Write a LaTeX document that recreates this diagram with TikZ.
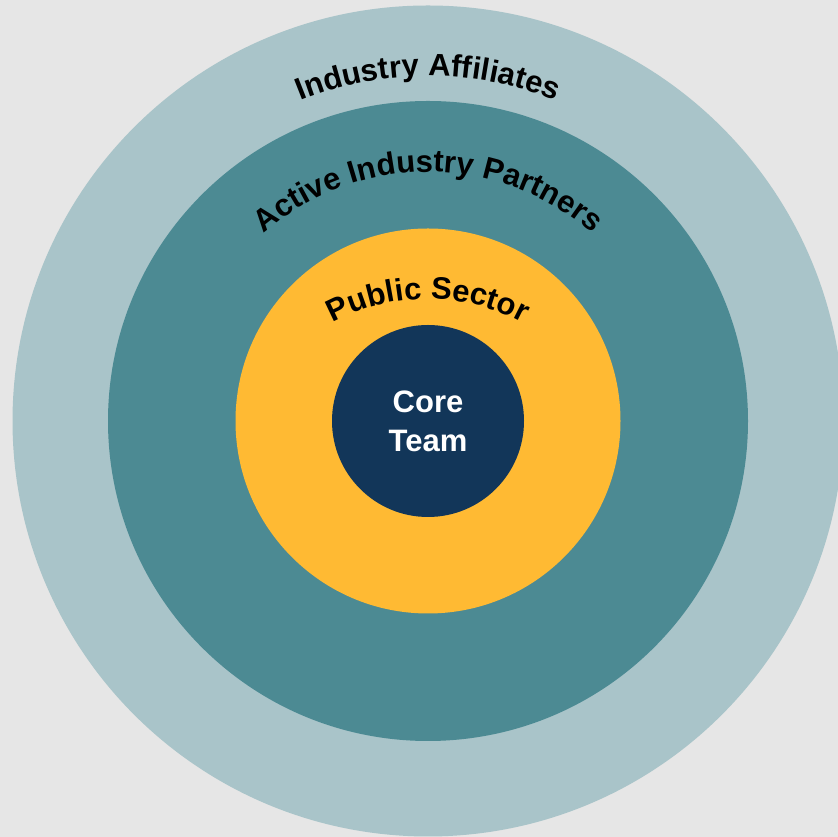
\documentclass[tikz,border=0pt]{standalone}
\usepackage{fontspec}
\setmainfont{Liberation Sans}
\usetikzlibrary{decorations.text}
\definecolor{bg}{HTML}{E6E6E6}
\definecolor{ringA}{HTML}{A9C4C9}
\definecolor{ringB}{HTML}{4C8A93}
\definecolor{ringC}{HTML}{FFBA33}
\definecolor{ringD}{HTML}{123659}
\tikzset{
  disc/.style={circle, draw=none, inner sep=0pt, minimum size=#1},
  arclabel/.style={decorate, decoration={text along path, text align=center,
     text={|\bfseries\fontsize{31}{36}\selectfont|#1}}},
  coretext/.style={text=white, font=\bfseries\fontsize{31}{36}\selectfont, anchor=base, inner sep=0pt}
}
\begin{document}
\begin{tikzpicture}[x=1pt,y=1pt]
\useasboundingbox (0,0) rectangle (838,837);
\clip (0,0) rectangle (838,837);
\fill[bg] (0,0) rectangle (838,837);
\coordinate (c) at (428,416);
\node[disc=831pt, fill=ringA] (affiliates) at (c) {};
\node[disc=640pt, fill=ringB] (partners) at (c) {};
\node[disc=385pt, fill=ringC] (public) at (c) {};
\node[disc=192pt, fill=ringD] (core) at (c) {};
% curved labels
\path[arclabel={Industry Affiliates}] (428-337,424) arc[start angle=180, end angle=0, radius=337];
\path[arclabel={Active Industry Partners}] (428-251,414) arc[start angle=180, end angle=0, radius=251];
\path[arclabel={Public Sector}] (428-200,338) arc[start angle=180, end angle=0, radius=200];
\node[coretext] (coreA) at (428,837-413) {Core};
\node[coretext] (coreB) at (428,837-452) {Team};
\end{tikzpicture}
\end{document}
